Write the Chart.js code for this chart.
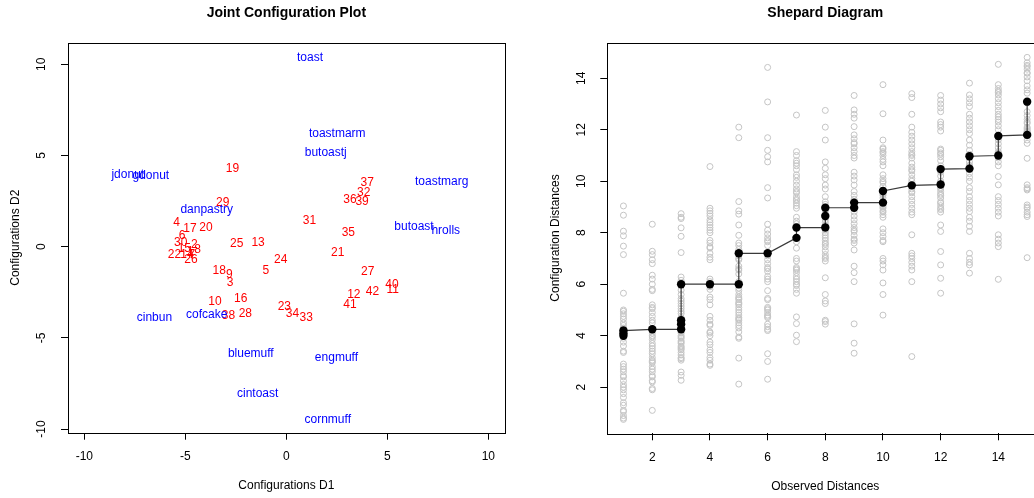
<!DOCTYPE html>
<html>
<head>
<meta charset="utf-8">
<script src="https://cdn.jsdelivr.net/npm/chart.js@4.4.1/dist/chart.umd.min.js"></script>
<style>
  html, body { margin: 0; padding: 0; background: #fff; overflow: hidden; width: 1034px; height: 498px; }
  #left { position: absolute; left: 0; top: 0; }
  #right { position: absolute; left: 517px; top: 0; }
</style>
</head>
<body>
<canvas id="left" width="517" height="498"></canvas>
<canvas id="right" width="560" height="498"></canvas>
<script>
// left panel: joint configuration (foods in blue, raters in red)
const foodNames = ["toast", "toastmarm", "butoastj", "jdonut", "gdonut", "toastmarg", "danpastry", "butoast",
  "hrolls", "cinbun", "cofcake", "bluemuff", "engmuff", "cintoast", "cornmuff"];
const foodX = [1.17, 2.52, 1.95, -7.85, -6.71, 7.69, -3.94, 6.32, 7.89, -6.53, -3.94, -1.76, 2.48, -1.42, 2.05];
const foodY = [10.37, 6.19, 5.14, 3.97, 3.88, 3.55, 2.05, 1.10, 0.88, -3.90, -3.75, -5.87, -6.09, -8.07, -9.49];

const raterIds = Array.from({ length: 42 }, (_, i) => String(i + 1));
const raterX = [-4.75, -4.55, -2.79, -5.43, -1.02, -5.16, -4.68, -4.39, -2.82, -3.53,
  5.27, 3.34, -1.40, -4.92, -5.05, -2.26, -4.77, -3.32, -2.67, -3.98,
  2.54, -5.54, -0.10, -0.28, -2.46, -4.72, 4.03, -2.03, -3.15, -5.23,
  1.14, 3.83, 0.98, 0.30, 3.07, 3.15, 4.00, -2.87, 3.75, 5.23, 3.15, 4.26];
const raterY = [-0.30, 0.13, -1.98, 1.32, -1.32, 0.59, -0.42, -0.14, -1.54, -3.02,
  -2.34, -2.63, 0.22, -0.45, -0.10, -2.85, 1.01, -1.32, 4.28, 1.06,
  -0.33, -0.46, -3.29, -0.71, 0.17, -0.69, -1.37, -3.68, 2.42, 0.19,
  1.43, 2.96, -3.88, -3.68, 0.77, 2.56, 3.51, -3.80, 2.47, -2.06, -3.16, -2.47];

const jointTicks = [-10, -5, 0, 5, 10];

// right panel: Shepard diagram
const obsLevels = [1, 2, 3, 4, 5, 6, 7, 8, 9, 10, 11, 12, 13, 14, 15];
const confDist = [
  [9.04, 8.68, 8.06, 7.88, 7.48, 7.15, 5.65, 5.0, 4.95, 4.85, 4.75, 4.65, 4.5, 4.4, 4.3, 4.2, 3.9, 3.75, 3.6, 3.4, 3.35, 2.9, 2.8, 2.7, 2.6, 2.45, 2.4, 2.25, 2.1, 2.0, 1.9, 1.75, 1.6, 1.4, 1.3, 1.1, 1.05, 0.9, 0.8, 0.75, 4.1, 4.0],
  [8.33, 7.28, 7.15, 6.95, 6.8, 6.35, 6.2, 6.0, 5.8, 5.75, 5.2, 5.1, 5.05, 4.9, 4.75, 4.6, 4.5, 4.25, 4.2, 4.0, 3.85, 3.7, 3.6, 3.5, 3.4, 3.3, 3.15, 3.05, 2.95, 2.8, 2.7, 2.6, 2.45, 2.4, 2.25, 2.2, 1.95, 1.9, 1.1, 4.1, 3.95, 3.0],
  [8.74, 8.6, 8.55, 8.19, 7.86, 7.23, 6.28, 6.15, 6.05, 5.77, 5.6, 5.44, 5.35, 5.25, 5.15, 5.05, 4.95, 4.86, 4.7, 4.55, 4.4, 4.3, 4.15, 4.0, 3.9, 3.8, 3.7, 3.6, 3.5, 3.45, 3.35, 3.25, 3.15, 3.11, 3.05, 2.59, 2.46, 2.27, 4.1, 3.95, 3.75, 3.55],
  [10.57, 8.95, 8.85, 8.75, 8.65, 8.5, 8.4, 8.3, 8.1, 8.0, 7.7, 7.45, 7.4, 7.2, 7.05, 6.95, 6.2, 6.1, 6.0, 5.9, 5.8, 5.5, 5.4, 5.2, 4.75, 4.6, 4.45, 4.4, 4.15, 4.1, 4.0, 3.75, 3.65, 3.45, 3.35, 3.15, 3.05, 2.9, 2.85, 8.2, 7.6, 5.95],
  [12.1, 11.69, 9.21, 8.85, 8.72, 8.3, 7.9, 7.6, 7.5, 7.35, 7.1, 6.95, 6.7, 6.55, 6.4, 6.1, 5.85, 5.75, 5.6, 5.5, 5.4, 5.3, 5.2, 5.1, 5.0, 4.9, 4.8, 4.7, 4.6, 4.5, 4.4, 4.3, 4.15, 3.95, 3.9, 3.13, 2.12, 5.45, 5.25, 4.65, 6.6, 7.0],
  [14.42, 13.08, 11.69, 11.2, 10.95, 10.75, 9.75, 9.35, 8.33, 8.1, 7.95, 7.8, 7.65, 7.5, 7.1, 6.95, 6.8, 6.6, 6.5, 6.2, 6.1, 5.75, 5.45, 5.4, 5.1, 5.0, 4.9, 4.8, 4.7, 4.45, 4.35, 4.2, 3.3, 3.0, 2.31, 7.2, 6.65, 4.75, 4.25, 5.05, 7.7, 6.3],
  [12.57, 11.15, 11.0, 10.8, 10.6, 10.45, 10.25, 10.15, 10.0, 9.85, 9.7, 9.55, 9.4, 9.3, 9.15, 9.05, 8.95, 8.6, 8.45, 8.35, 7.65, 7.4, 7.0, 6.9, 6.65, 6.55, 6.45, 6.3, 6.2, 6.1, 5.95, 5.8, 5.65, 4.73, 4.47, 4.02, 3.77, 9.6, 6.6, 10.7, 9.25, 6.0],
  [12.75, 12.1, 11.6, 10.75, 10.5, 10.25, 10.1, 9.85, 9.7, 9.4, 9.2, 9.1, 8.85, 8.75, 8.5, 8.4, 8.3, 8.1, 8.0, 7.9, 7.8, 7.7, 7.55, 7.45, 7.3, 7.15, 7.0, 6.9, 6.25, 5.6, 5.35, 5.25, 4.6, 4.45, 8.98, 8.65, 8.22, 9.0, 7.6, 7.05, 8.6, 4.55],
  [13.33, 12.77, 12.6, 12.45, 12.12, 11.8, 11.65, 11.45, 11.3, 11.15, 11.0, 10.9, 10.35, 10.2, 10.05, 9.85, 9.6, 9.45, 9.3, 9.15, 8.8, 8.65, 8.5, 8.35, 8.2, 8.05, 7.9, 7.75, 7.6, 7.33, 6.7, 6.45, 6.1, 4.46, 3.71, 3.32, 9.17, 8.97, 9.0, 8.1, 7.7, 11.5],
  [13.75, 12.62, 11.6, 11.3, 11.15, 11.0, 10.85, 10.75, 10.25, 10.1, 9.95, 9.8, 9.45, 9.35, 9.05, 8.95, 8.8, 8.7, 8.15, 8.0, 7.85, 7.65, 7.0, 6.9, 6.55, 6.05, 5.6, 4.8, 9.62, 9.17, 9.2, 9.1, 9.5, 10.0, 11.1, 7.7, 6.75, 10.6, 8.85, 8.6, 9.0, 11.25],
  [13.4, 13.25, 12.6, 12.1, 11.9, 11.75, 11.6, 11.45, 11.3, 11.15, 11.0, 10.9, 10.7, 10.55, 10.4, 10.25, 10.1, 10.0, 9.85, 9.7, 9.55, 9.4, 9.25, 9.1, 8.95, 8.7, 7.92, 7.2, 7.0, 6.85, 6.7, 6.55, 6.1, 3.19, 9.84, 9.84, 9.84, 10.45, 9.6, 11.05, 7.1, 8.8],
  [13.33, 13.15, 13.0, 12.85, 12.7, 12.3, 12.1, 11.95, 11.25, 11.1, 10.95, 10.8, 10.5, 10.35, 10.2, 9.9, 9.75, 9.6, 9.5, 9.35, 9.2, 9.05, 8.9, 8.8, 8.3, 8.05, 7.27, 6.75, 6.23, 5.65, 10.47, 9.87, 9.84, 11.05, 9.45, 10.0, 12.2, 9.7, 11.2, 8.95, 9.15, 10.6],
  [13.81, 13.35, 13.2, 13.05, 12.9, 12.45, 12.3, 12.15, 12.0, 11.85, 11.6, 11.2, 11.05, 10.9, 10.75, 10.6, 10.3, 10.15, 10.0, 9.75, 9.4, 9.25, 9.1, 8.95, 8.82, 8.45, 8.25, 8.05, 7.2, 7.0, 6.85, 6.75, 6.43, 10.97, 10.62, 10.49, 10.55, 10.45, 11.4, 9.6, 12.6, 8.6],
  [14.54, 13.75, 13.6, 13.45, 13.35, 13.2, 13.05, 12.9, 12.75, 12.6, 12.5, 12.3, 12.15, 12.0, 11.6, 11.45, 11.3, 10.75, 10.6, 10.18, 9.86, 9.4, 9.25, 9.1, 8.95, 8.8, 8.65, 7.92, 7.75, 7.6, 7.46, 6.19, 11.76, 11.15, 11.05, 10.96, 11.7, 11.1, 12.4, 11.0, 10.9, 13.5],
  [14.81, 14.6, 14.5, 14.35, 14.2, 14.05, 13.9, 13.7, 13.42, 12.55, 12.4, 12.25, 12.1, 12.0, 11.9, 11.8, 11.75, 11.47, 10.89, 9.86, 9.75, 9.66, 9.08, 8.95, 8.8, 8.63, 7.03, 13.09, 11.93, 11.85, 11.8, 12.7, 14.2, 13.55, 9.7, 8.7, 11.6, 12.05, 14.45, 9.0, 12.3, 11.95]
];
// fitted (isotonic) values, sorted
const fitX = [1, 1, 1, 2, 3, 3, 3, 3, 4, 5, 5, 6, 7, 7, 8, 8, 8, 9, 9, 10, 10, 11, 12, 12, 13, 13, 14, 14, 15, 15];
const fitY = [4.0, 4.1, 4.2, 4.25, 4.25, 4.45, 4.6, 6.0, 6.0, 6.0, 7.2, 7.2, 7.8, 8.2, 8.2, 8.65, 8.97, 8.97, 9.17, 9.17, 9.62, 9.84, 9.87, 10.47, 10.49, 10.97, 11.0, 11.76, 11.8, 13.09];
const shepardTicks = [2, 4, 6, 8, 10, 12, 14];

const FONT = '"Liberation Sans", Arial, Helvetica, sans-serif';

// R-like frame: box, tick labels, titles
const rFrame = {
  id: 'rFrame',
  afterDraw(chart, args, o) {
    const { ctx, chartArea: a } = chart;
    ctx.save();
    ctx.strokeStyle = '#000';
    ctx.lineWidth = 1;
    ctx.strokeRect(Math.round(a.left) + 0.5, Math.round(a.top) + 0.5, Math.round(a.right - a.left), Math.round(a.bottom - a.top));
    ctx.fillStyle = '#000';
    ctx.textAlign = 'center';
    ctx.textBaseline = 'middle';
    const cx = (a.left + a.right) / 2, cy = (a.top + a.bottom) / 2;
    ctx.font = 'bold 14px ' + FONT;
    ctx.fillText(o.title, cx, a.top - 30);
    ctx.font = '12px ' + FONT;
    ctx.fillText(o.xTitle, cx, a.bottom + 53);
    const xs = chart.scales.x, ys = chart.scales.y;
    xs.ticks.forEach(t => ctx.fillText(String(t.value), xs.getPixelForValue(t.value), a.bottom + 24));
    ys.ticks.forEach(t => {
      ctx.save();
      ctx.translate(a.left - 26, ys.getPixelForValue(t.value));
      ctx.rotate(-Math.PI / 2);
      ctx.fillText(String(t.value), 0, 0);
      ctx.restore();
    });
    ctx.translate(a.left - 52, cy);
    ctx.rotate(-Math.PI / 2);
    ctx.fillText(o.yTitle, 0, 0);
    ctx.restore();
  }
};

// text labels at point positions
const textMarks = {
  id: 'textMarks',
  afterDatasetsDraw(chart) {
    const ctx = chart.ctx;
    chart.data.datasets.forEach((ds, i) => {
      if (!ds.texts) return;
      const meta = chart.getDatasetMeta(i);
      ctx.save();
      ctx.font = '12px ' + FONT;
      ctx.fillStyle = ds.textColor;
      ctx.textAlign = 'center';
      ctx.textBaseline = 'middle';
      meta.data.forEach((el, j) => ctx.fillText(ds.texts[j], el.x, el.y));
      ctx.restore();
    });
  }
};

function axis(min, max, ticks, pos, size) {
  return {
    type: 'linear', position: pos, min: min, max: max,
    afterBuildTicks: s => { s.ticks = ticks.map(v => ({ value: v })); },
    afterFit: s => { if (pos === 'bottom') s.height = size; else s.width = size; },
    ticks: { display: false },
    grid: { display: true, drawOnChartArea: false, drawTicks: true, tickLength: 7, color: '#000', lineWidth: 1 },
    border: { display: false }
  };
}

new Chart(document.getElementById('left'), {
  type: 'scatter',
  data: {
    datasets: [
      {
        data: raterX.map((x, i) => ({ x: x, y: raterY[i] })),
        texts: raterIds, textColor: '#ff0000', pointRadius: 0
      },
      {
        data: foodX.map((x, i) => ({ x: x, y: foodY[i] })),
        texts: foodNames, textColor: '#0000ff', pointRadius: 0
      }
    ]
  },
  options: {
    responsive: false, animation: false, devicePixelRatio: 1,
    layout: { padding: { left: 0, top: 42.7, right: 12.3, bottom: 0 } },
    scales: {
      x: axis(-10.81, 10.81, jointTicks, 'bottom', 65.3),
      y: axis(-10.2, 11.18, jointTicks, 'left', 68)
    },
    plugins: {
      legend: { display: false }, tooltip: { enabled: false },
      rFrame: { title: 'Joint Configuration Plot', xTitle: 'Configurations D1', yTitle: 'Configurations D2' }
    }
  },
  plugins: [textMarks, rFrame]
});

const obsPoints = [];
obsLevels.forEach((lv, i) => confDist[i].forEach(v => obsPoints.push({ x: lv, y: v })));

new Chart(document.getElementById('right'), {
  type: 'scatter',
  data: {
    datasets: [
      {
        data: fitX.map((x, i) => ({ x: x, y: fitY[i] })),
        showLine: true, borderColor: '#3a3a3a', borderWidth: 1.2,
        pointRadius: 4.2, pointBackgroundColor: '#000', pointBorderColor: '#000', pointBorderWidth: 0
      },
      {
        data: obsPoints,
        pointRadius: 3, pointBackgroundColor: 'rgba(0,0,0,0)', pointBorderColor: '#c4c4c4', pointBorderWidth: 1
      }
    ]
  },
  options: {
    responsive: false, animation: false, devicePixelRatio: 1,
    layout: { padding: { left: 0, top: 42.7, right: 33.7, bottom: 0 } },
    scales: {
      x: axis(0.44, 15.56, shepardTicks, 'bottom', 64.7),
      y: axis(0.21, 15.38, shepardTicks, 'left', 90.3)
    },
    plugins: {
      legend: { display: false }, tooltip: { enabled: false },
      rFrame: { title: 'Shepard Diagram', xTitle: 'Observed Distances', yTitle: 'Configuration Distances' }
    }
  },
  plugins: [rFrame]
});
</script>
</body>
</html>
